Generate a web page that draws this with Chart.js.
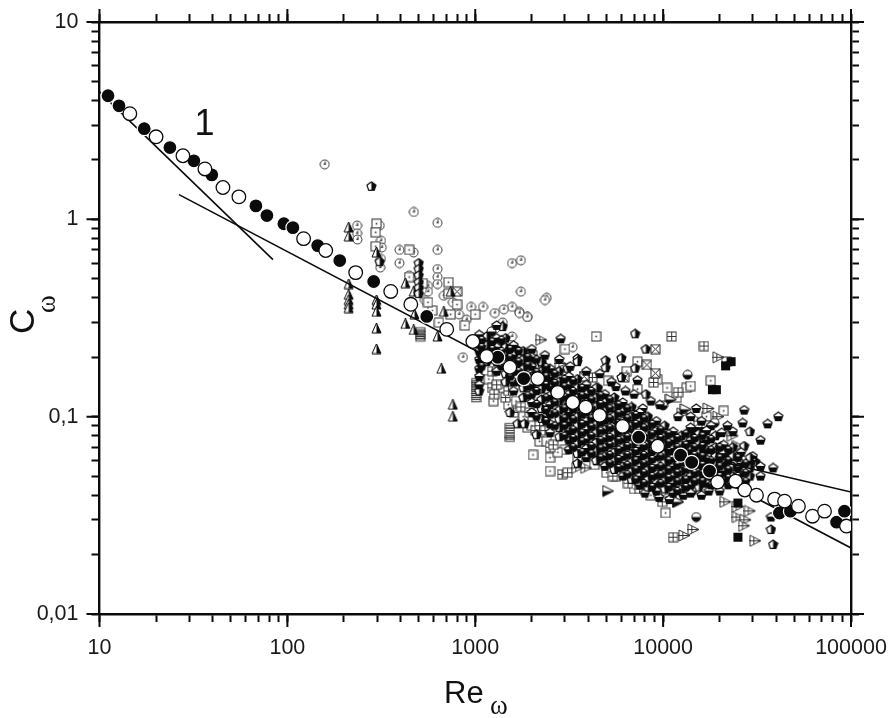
<!DOCTYPE html>
<html><head><meta charset="utf-8">
<style>html,body{margin:0;padding:0;background:#fff}#w{width:895px;height:718px;position:relative}canvas{display:block;filter:blur(0.45px)}</style>
<script src="https://cdn.jsdelivr.net/npm/chart.js@4"></script>
</head><body><div id="w"><canvas id="c" width="895" height="718"></canvas></div>
<script>
const xTickValues=[10,20,30,40,50,60,70,80,90,100,200,300,400,500,600,700,800,900,1000,2000,3000,4000,5000,6000,7000,8000,9000,10000,20000,30000,40000,50000,60000,70000,80000,90000,100000];
const yTickValues=[0.01,0.02,0.03,0.04,0.05,0.06,0.07,0.08,0.09,0.1,0.2,0.3,0.4,0.5,0.6,0.7,0.8,0.9,1,2,3,4,5,6,7,8,9,10];
const xMajorLabels={10:'10',100:'100',1000:'1000',10000:'10000',100000:'100000'};
const yMajorLabels={0.01:'0,01',0.1:'0,1',1:'1',10:'10'};
const xAxisName='Re', yAxisName='C', subscriptName='ω', curveLabel='1';

const filledCurve=[[11.1,4.23],[12.7,3.76],[17.3,2.88],[23.7,2.31],[31.8,1.98],[39.6,1.68],[68,1.17],[77.8,1.045],[95.8,.95],[107,.908],[145,.736],[190,.618],[288,.484],[552,.322],[1318,.2],[1811,.156],[7413,.0787],[12390,.0638],[14190,.0587],[17660,.053],[41600,.0325],[47600,.0332],[83800,.0292],[92300,.0332]];
const openCurve=[[14.5,3.43],[20,2.62],[27.8,2.1],[36.4,1.8],[45.4,1.45],[55.2,1.3],[122,.798],[160,.695],[231,.537],[355,.431],[454,.371],[705,.277],[971,.2404],[1151,.202],[1528,.178],[2148,.156],[2748,.1327],[3304,.118],[3873,.1117],[4592,.1016],[6083,.0893],[9354,.0708],[19500,.0466],[24300,.0471],[27200,.0425],[31400,.04],[39200,.0382],[44300,.0373],[52500,.0352],[62400,.0313],[72300,.0332],[94600,.0279]];
const steepLine=[[10,4.43],[83.8,.625]];
const mainLine=[[26.5,1.334],[100000,.0216]];
const branchLine=[[10060,.0692],[100000,.0415]];

const ringCircles=[[158,1.9],[471,1.09],[630,.96],[235,.93],[235,.85],[236,.79],[310,.93],[315,.78],[318,.72],[315,.63],[312,.57],[395,.7],[470,.68],[630,.7],[395,.6],[630,.56],[630,.51],[630,.47],[560,.46],[560,.43],[1570,.6],[1750,.62],[1750,.43],[2400,.4],[1570,.36],[1720,.34],[1900,.32],[950,.36],[1100,.36],[1270,.335],[1420,.35],[1720,.335],[1890,.32],[2350,.39],[3300,.225],[1570,.255],[860,.2],[445,.52],[520,.44],[680,.41],[760,.38],[540,.39],[1280,.28],[1400,.3],[900,.31],[820,.33]];
const dotSquares=[[298,.95],[295,.86],[295,.73],[445,.7],[445,.51],[720,.48],[720,.42],[590,.345],[525,.475],[740,.33],[4400,.255],[3000,.22],[880,.29],[7300,.19],[5100,.152],[13300,.14],[17900,.152],[21700,.19],[21000,.107],[17000,.1],[17000,.09],[2030,.064],[2500,.062],[2500,.053],[10300,.0325],[5000,.052],[6100,.058],[7300,.138],[10500,.14],[14000,.143],[3500,.062],[4300,.057],[5600,.05],[7000,.043],[8600,.04],[12500,.055],[15000,.047],[24000,.05],[1250,.12],[1500,.115],[1900,.088],[2200,.075],[3000,.068],[6400,.17],[9300,.155],[11800,.125],[560,.38],[640,.3],[800,.37],[1000,.33],[1180,.155],[1400,.14],[1650,.12],[1800,.1],[2000,.09],[2400,.075],[2750,.066]];
const stripeSquares=[[1010,.152],[1010,.146],[1010,.14],[1010,.134],[1010,.128],[1010,.122],[510,.275],[510,.265],[510,.255],[510,.248],[1530,.09],[1530,.085],[1530,.08],[1530,.077]];
const plusSquares=[[11100,.255],[16500,.228],[2020,.205],[6500,.046],[7500,.043],[5400,.05],[2900,.051],[3100,.052],[9900,.037],[11300,.0245],[12000,.133],[8900,.149],[4200,.158],[3800,.16],[3700,.138],[1340,.228],[1230,.17],[1230,.14],[2500,.07],[4100,.066],[4600,.06],[5000,.061],[7900,.05],[9000,.047],[1300,.145],[1260,.13],[1450,.125],[1500,.135],[1600,.105],[1750,.112],[1950,.105],[2100,.085],[2200,.09],[2350,.085],[2600,.072]];
const crossSquares=[[9100,.22],[8200,.183],[9100,.166],[6200,.158],[3800,.16],[800,.43]];
const crossTriangles=[[2250,.245],[2850,.186],[19700,.2],[17500,.11],[19700,.1],[23500,.08],[25000,.071],[15600,.095],[12700,.104],[21500,.037],[25000,.035],[29000,.0333],[25000,.031],[27500,.03],[27000,.028],[31000,.0235],[14500,.0268],[13000,.025],[12000,.037],[3900,.055],[3500,.055],[10500,.042],[11300,.043]];
const sidePentagons=[[7100,.263],[8100,.22],[6000,.198],[7100,.176],[4950,.193],[4950,.177],[3500,.197],[3500,.19],[6000,.158],[8100,.13],[4500,.14],[3100,.176],[1400,.286],[1670,.218],[2000,.19],[2250,.187],[1680,.187],[1530,.105],[1680,.092],[1830,.092],[2120,.081],[27000,.071],[29000,.084],[31000,.059],[37500,.0268],[38500,.0225],[280,1.47],[500,.6],[500,.56],[500,.52],[500,.48],[500,.45],[500,.42],[310,.61],[1050,.135]];
const halfTriangles=[[212,.91],[212,.82],[298,.68],[212,.47],[212,.415],[212,.39],[212,.37],[212,.355],[298,.39],[298,.37],[298,.34],[298,.28],[298,.22],[425,.475],[425,.295],[470,.43],[470,.275],[475,.33],[680,.34],[630,.255],[740,.43],[660,.175],[760,.115],[760,.1],[1350,.24]];
const halfCircles=[[13500,.163],[15000,.031],[1220,.27],[10000,.114],[14300,.042],[18800,.093]];
const solidSquares=[[18300,.137],[19200,.137],[21500,.181],[23000,.19],[25000,.0245],[25000,.0365],[10000,.055],[14700,.084],[15600,.084]];
const lowPentagons=[[2850,.248],[27000,.108],[41000,.1],[36000,.092],[26500,.093],[23500,.084],[20500,.083],[33000,.076],[38500,.055],[30000,.063],[29500,.06],[15000,.11],[7300,.153],[20500,.071],[18800,.066],[21800,.065],[24700,.063],[37500,.031],[7800,.11],[9300,.084],[5600,.142],[5600,.11],[2000,.22],[2350,.205],[2800,.195],[3200,.18],[3900,.17],[4600,.165],[5300,.15],[6300,.135],[7000,.13],[8600,.12],[9600,.115],[12000,.1],[14000,.1],[16000,.095],[18000,.09],[22000,.09],[8000,.041],[9500,.039],[10800,.038],[12800,.04],[16000,.04],[17500,.042],[20000,.042]];
const sideTriangles=[[5100,.042],[12000,.037],[13200,.109],[11000,.122]];

const denseColumnsA=[[1050,[.26,.235,.215,.195,.175,.16,.145]],[1300,[.29,.25,.225,.205,.19,.17]],[1600,[.23,.205,.185,.17,.15,.135]],[2000,[.2,.18,.16,.145,.13,.118,.105]],[2500,[.175,.158,.142,.128,.115,.103,.092,.083]],[3150,[.16,.145,.13,.117,.105,.094,.085,.076,.068]],[3900,[.145,.13,.118,.106,.095,.086,.077,.069,.062]],[4900,[.13,.118,.106,.096,.086,.078,.07,.063,.056]],[6100,[.118,.106,.095,.086,.077,.07,.063,.056,.05]],[7500,[.105,.095,.086,.077,.07,.063,.056,.05,.045]],[9200,[.095,.085,.077,.07,.063,.057,.051,.046,.042]],[11300,[.084,.076,.069,.062,.056,.05,.046,.041]],[14000,[.088,.076,.068,.062,.056,.05,.045,.041]],[17000,[.085,.076,.068,.061,.055,.05,.046]],[21000,[.072,.065,.058,.053,.048]],[26000,[.066,.058,.052,.047]],[33000,[.056,.05]]];
const denseColumnsB=[[1150,[.255,.23,.21,.19]],[1450,[.25,.225,.205,.185,.165,.15]],[1800,[.215,.195,.175,.155,.14,.125]],[2250,[.19,.17,.152,.138,.122,.11,.098]],[2800,[.17,.15,.135,.12,.108,.097,.088,.079]],[3500,[.155,.14,.125,.112,.1,.09,.081,.073,.065,.058]],[4400,[.14,.125,.113,.102,.092,.083,.074,.067,.06]],[5500,[.125,.112,.101,.091,.082,.074,.066,.06,.054]],[6800,[.112,.1,.09,.081,.073,.065,.059,.053,.048]],[8300,[.1,.09,.081,.073,.066,.06,.054,.048,.044]],[10200,[.09,.08,.072,.065,.059,.053,.048,.043]],[12500,[.08,.072,.065,.059,.053,.048,.043]],[15500,[.082,.073,.066,.059,.053,.048,.044]],[19000,[.08,.07,.063,.057,.052,.047]],[23500,[.07,.063,.056,.05,.046]],[29000,[.062,.055,.05]]];
const denseColumnsC=[[1080,[.245,.225,.2,.18]],[1230,[.24,.22,.195]],[1380,[.245,.215,.2,.18]],[1530,[.22,.2,.18,.16]],[1700,[.215,.19,.17,.15]],[1900,[.2,.182,.162,.142,.128]],[2120,[.195,.168,.15,.135,.116,.1]],[2380,[.178,.16,.145,.125,.108,.095]],[2650,[.165,.148,.132,.118,.104,.09]],[2980,[.155,.142,.126,.11,.098,.09,.08]],[3320,[.152,.135,.12,.109,.097,.086,.078,.07]],[3700,[.14,.128,.115,.103,.092,.083,.075,.066]],[4150,[.135,.122,.11,.098,.089,.08,.071,.065]],[4650,[.128,.116,.105,.094,.085,.076,.069,.062]],[5200,[.122,.11,.098,.088,.079,.072,.064,.058]],[5800,[.115,.104,.093,.084,.076,.068,.061,.055]],[6450,[.11,.098,.088,.079,.071,.064,.057,.051]],[7150,[.102,.092,.083,.075,.067,.06,.054,.048]],[7900,[.098,.088,.079,.071,.064,.058,.052,.046]],[8750,[.092,.082,.074,.067,.061,.055,.05,.044]],[9700,[.086,.078,.07,.063,.056,.051,.046]],[10700,[.082,.074,.067,.06,.054,.049,.044]],[11900,[.078,.07,.063,.057,.052,.047,.042]],[13200,[.082,.072,.065,.059,.054,.048,.044]],[14700,[.078,.07,.064,.057,.052,.047]],[16200,[.08,.071,.063,.057,.052,.047]],[18000,[.077,.068,.06,.055,.05,.045]],[20000,[.07,.062,.056,.05,.046]],[22200,[.068,.06,.054,.049,.045]],[25000,[.062,.055,.05,.046]],[27500,[.058,.052,.047]]];

const INK='#0b0b0b', GREY='#333';
const toPts=a=>a.map(p=>({x:p[0],y:p[1]}));
const colPts=c=>c.flatMap(col=>col[1].map(v=>({x:col[0],y:v})));
function glyph(draw,s=11){const c=document.createElement('canvas');c.width=c.height=s;const g=c.getContext('2d');g.translate(s/2,s/2);g.lineWidth=1;g.strokeStyle=INK;g.fillStyle=INK;draw(g,s/2-1);return c;}
function poly(g,pts){g.beginPath();pts.forEach((p,i)=>i?g.lineTo(p[0],p[1]):g.moveTo(p[0],p[1]));g.closePath();}
const pent=r=>[[0,-r],[r,-r*.3],[r*.62,r*.85],[-r*.62,r*.85],[-r,-r*.3]];
const mk={
 ring:glyph((g,r)=>{g.strokeStyle=GREY;g.beginPath();g.arc(0,0,r,0,7);g.fillStyle='#fff';g.fill();g.stroke();g.fillStyle=GREY;g.fillRect(-1,-1,2,1.5);g.fillRect(0,-3,1,3);}),
 dot:glyph((g,r)=>{g.strokeStyle=GREY;g.fillStyle='#fff';g.fillRect(-r,-r,2*r,2*r);g.strokeRect(-r,-r,2*r,2*r);g.fillStyle=GREY;g.fillRect(-.8,-.8,1.6,1.6);}),
 stripe:glyph((g,r)=>{g.strokeStyle=GREY;g.strokeRect(-r,-2.2,2*r,4.4);g.beginPath();g.moveTo(-r,0);g.lineTo(r,0);g.stroke();},11),
 plus:glyph((g,r)=>{g.strokeStyle=GREY;g.fillStyle='#fff';g.fillRect(-r,-r,2*r,2*r);g.strokeRect(-r,-r,2*r,2*r);g.beginPath();g.moveTo(0,-r);g.lineTo(0,r);g.moveTo(-r,0);g.lineTo(r,0);g.stroke();}),
 cross:glyph((g,r)=>{g.strokeStyle='#222';g.fillStyle='#fff';g.fillRect(-r,-r,2*r,2*r);g.strokeRect(-r,-r,2*r,2*r);g.beginPath();g.moveTo(-r,-r);g.lineTo(r,r);g.moveTo(r,-r);g.lineTo(-r,r);g.stroke();}),
 tcross:glyph((g,r)=>{g.strokeStyle=GREY;poly(g,[[-r,-r],[r,0],[-r,r]]);g.fillStyle='#fff';g.fill();g.stroke();g.beginPath();g.moveTo(-r-1,0);g.lineTo(r,0);g.moveTo(-r*.3,-r*.65);g.lineTo(-r*.3,r*.65);g.stroke();},13),
 side:glyph((g,r)=>{poly(g,pent(r));g.fillStyle='#fff';g.fill();g.save();g.clip();g.fillStyle=INK;g.fillRect(0,-r-1,r+1,2*r+2);g.restore();g.lineWidth=1.2;g.stroke();}),
 tri:glyph((g,r)=>{poly(g,[[0,-r-1],[r,r],[-r,r]]);g.fillStyle='#fff';g.fill();g.save();g.clip();g.fillStyle=INK;g.fillRect(0,-r-1,r+1,2*r+2);g.restore();g.stroke();}),
 half:glyph((g,r)=>{g.beginPath();g.arc(0,0,r,0,7);g.fillStyle='#fff';g.fill();g.beginPath();g.arc(0,0,r,0,Math.PI);g.fillStyle=INK;g.fill();g.beginPath();g.arc(0,0,r,0,7);g.stroke();}),
 solid:glyph((g,r)=>{g.fillRect(-r,-r,2*r,2*r);}),
 low:glyph((g,r)=>{poly(g,pent(r));g.fillStyle='#fff';g.fill();g.save();g.clip();g.fillStyle=INK;g.fillRect(-r-1,-.5,2*r+2,r+2);g.restore();g.lineWidth=1.2;g.stroke();}),
 core:glyph((g,r)=>{poly(g,pent(r));g.fillStyle=INK;g.fill();g.fillStyle='#fff';g.fillRect(-1.5,-r*.6,3,1.5);},12),
 stri:glyph((g,r)=>{poly(g,[[-r,-r],[r,0],[-r,r]]);g.fillStyle='#fff';g.fill();g.save();g.clip();g.fillStyle=INK;g.fillRect(-r,0,2*r+2,r+1);g.restore();g.stroke();},13)
};
const scat=(d,style,order)=>({type:'scatter',data:d,pointStyle:style,showLine:false,order});
const curve=(d,w)=>({type:'scatter',data:toPts(d),showLine:true,borderColor:INK,borderWidth:w,pointRadius:0,order:3,tension:0});
const datasets=[
 {type:'scatter',data:toPts(filledCurve),pointRadius:7,pointBackgroundColor:INK,pointBorderColor:'#fff',pointBorderWidth:1.2,order:1},
 {type:'scatter',data:toPts(openCurve),pointRadius:6.8,pointBackgroundColor:'#fff',pointBorderColor:INK,pointBorderWidth:1.3,order:0},
 curve(steepLine,1.6),curve(mainLine,1.6),curve(branchLine,1.6),
 scat(colPts(denseColumnsC),mk.core,4),
 scat(colPts(denseColumnsA),mk.low,5),scat(colPts(denseColumnsB),mk.side,6),
 scat(toPts(lowPentagons),mk.low,7),scat(toPts(sidePentagons),mk.side,8),scat(toPts(halfCircles),mk.half,9),
 scat(toPts(solidSquares),mk.solid,10),scat(toPts(sideTriangles),mk.stri,11),scat(toPts(halfTriangles),mk.tri,12),
 scat(toPts(crossTriangles),mk.tcross,13),scat(toPts(crossSquares),mk.cross,14),scat(toPts(plusSquares),mk.plus,15),
 scat(toPts(stripeSquares),mk.stripe,16),scat(toPts(dotSquares),mk.dot,17),scat(toPts(ringCircles),mk.ring,18)
];
const AXW=2.4, MIN=8, MAJ=13;
const axisBase=(pos,lim,tickVals,labels,size,showLab,pad)=>({
 type:'logarithmic',position:pos,min:lim[0],max:lim[1],
 border:{display:true,color:INK,width:AXW},
 grid:{drawOnChartArea:false,drawTicks:true,tickLength:MIN,tickWidth:2,tickColor:INK},
 ticks:{display:showLab,autoSkip:false,maxRotation:0,minRotation:0,padding:pad,color:'#1a1a1a',font:{family:'"Liberation Sans",Arial,sans-serif',size:21.5},callback:v=>labels[v]||''},
 afterBuildTicks:s=>{s.ticks=tickVals.map(v=>({value:v,major:!!labels[v]}));},
 afterFit:s=>{s.paddingLeft=s.paddingRight=s.paddingTop=s.paddingBottom=0;if(s.isHorizontal())s.height=size;else s.width=size;}
});
const ornaments={id:'ornaments',afterDraw(ch){
 const g=ch.ctx,{x,y}=ch.scales;
 g.save();g.strokeStyle=INK;g.lineWidth=2;g.beginPath();
 xTickValues.filter(v=>xMajorLabels[v]).forEach(v=>{const p=x.getPixelForValue(v);g.moveTo(p,y.bottom);g.lineTo(p,y.bottom+MAJ);g.moveTo(p,y.top);g.lineTo(p,y.top-MAJ);});
 yTickValues.filter(v=>yMajorLabels[v]).forEach(v=>{const p=y.getPixelForValue(v);g.moveTo(x.left,p);g.lineTo(x.left-MAJ,p);g.moveTo(x.right,p);g.lineTo(x.right+MAJ,p);});
 g.stroke();
 g.fillStyle='#111';g.textBaseline='alphabetic';g.textAlign='left';
 const F='"Liberation Sans",Arial,sans-serif', S='"Liberation Serif",serif';
 g.font='36px '+F;g.fillText(curveLabel,x.getPixelForValue(32),y.getPixelForValue(2.68));
 g.font='31px '+F;g.fillText(xAxisName,444,703);
 g.font='27px '+S;g.fillText(subscriptName,490,714);
 g.translate(34,334);g.rotate(-Math.PI/2);
 g.font='35px '+F;g.fillText(yAxisName,0,0);
 g.font='27px '+S;g.fillText(subscriptName,21,21);
 g.restore();
}};
new Chart(document.getElementById('c'),{
 data:{datasets},
 plugins:[ornaments],
 options:{responsive:false,animation:false,events:[],
  layout:{padding:0},
  plugins:{legend:{display:false},tooltip:{enabled:false},title:{display:false}},
  scales:{
   x:axisBase('bottom',[10,100000],xTickValues,xMajorLabels,104,true,13),
   x2:axisBase('top',[10,100000],xTickValues,xMajorLabels,22,false,0),
   y:axisBase('left',[0.01,10],yTickValues,yMajorLabels,99.5,true,13),
   y2:axisBase('right',[0.01,10],yTickValues,yMajorLabels,44,false,0)
  }}
});
</script></body></html>
